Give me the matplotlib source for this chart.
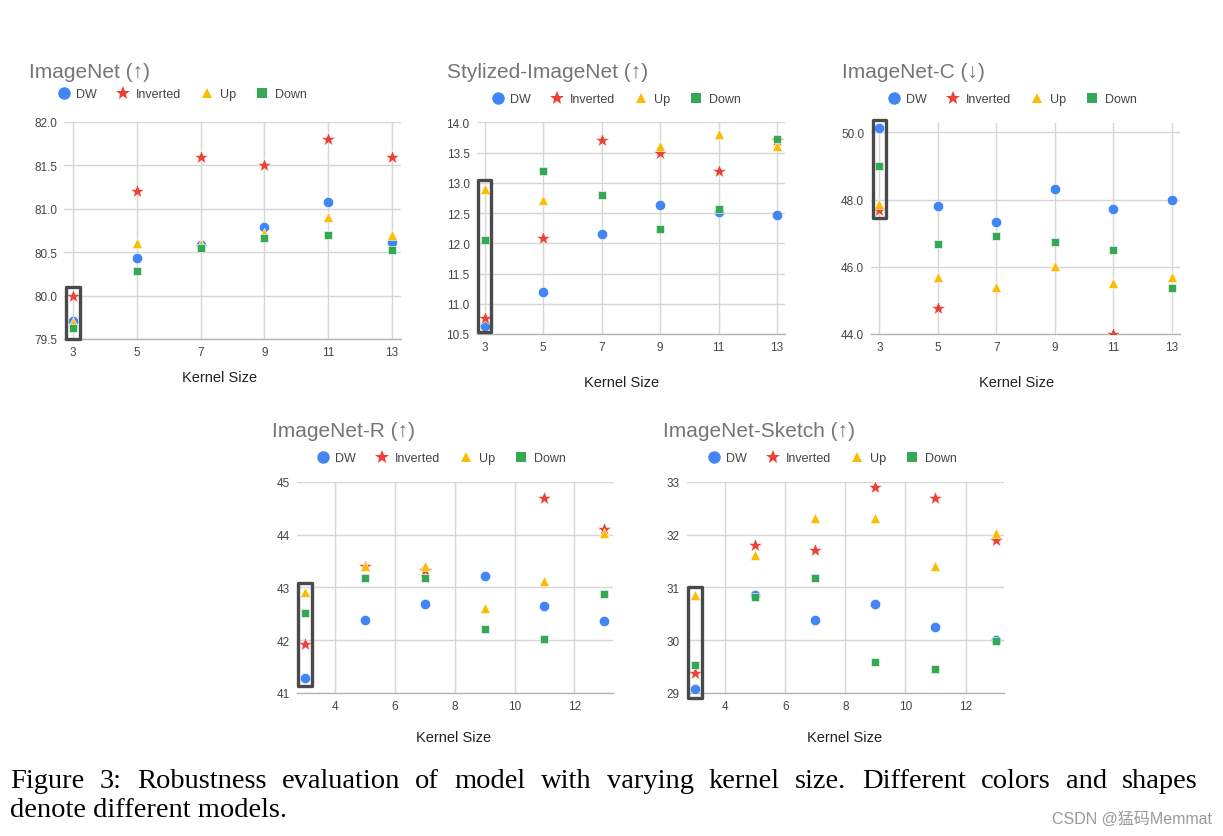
import numpy as np
import matplotlib.pyplot as plt
from matplotlib.lines import Line2D
from matplotlib.patches import Rectangle

# -----------------------------
# data
# -----------------------------
kernel = [3, 5, 7, 9, 11, 13]
models = ["DW", "Inverted", "Up", "Down"]
nan = np.nan

imagenet_dw = [79.71, 80.43, 80.58, 80.79, 81.08, 80.62]
imagenet_inv = [80.0, 81.2, 81.6, 81.5, 81.8, 81.6]
imagenet_up = [79.70, 80.61, 80.60, 80.72, 80.91, 80.70]
imagenet_down = [79.63, 80.28, 80.55, 80.66, 80.70, 80.52]

stylized_dw = [10.64, 11.20, 12.15, 12.63, 12.52, 12.47]
stylized_inv = [10.76, 12.09, 13.70, 13.50, 13.20, 13.71]
stylized_up = [12.89, 12.71, nan, 13.61, 13.81, 13.61]
stylized_down = [12.05, 13.19, 12.80, 12.23, 12.57, 13.73]

inc_dw = [50.13, 47.80, 47.32, 48.33, 47.72, 47.98]
inc_inv = [47.70, 44.78, nan, 43.85, 44.0, 43.85]
inc_up = [47.86, 45.71, 45.41, 46.02, 45.53, 45.71]
inc_down = [48.99, 46.67, 46.93, 46.75, 46.50, 45.37]

inr_dw = [41.28, 42.38, 42.68, 43.22, 42.65, 42.36]
inr_inv = [41.93, 43.41, 43.32, nan, 44.70, 44.11]
inr_up = [42.91, 43.41, 43.41, 42.61, 43.12, 44.03]
inr_down = [42.51, 43.17, 43.18, 42.22, 42.03, 42.87]

sketch_dw = [29.08, 30.86, 30.39, 30.68, 30.24, 30.00]
sketch_inv = [29.37, 31.80, 31.70, 32.90, 32.70, 31.90]
sketch_up = [30.86, 31.62, 32.32, 32.32, 31.41, 32.02]
sketch_down = [29.53, 30.81, 31.17, 29.59, 29.46, 29.98]

titles = ["ImageNet (↑)", "Stylized-ImageNet (↑)", "ImageNet-C (↓)",
          "ImageNet-R (↑)", "ImageNet-Sketch (↑)"]
series = [
    [imagenet_dw, imagenet_inv, imagenet_up, imagenet_down],
    [stylized_dw, stylized_inv, stylized_up, stylized_down],
    [inc_dw, inc_inv, inc_up, inc_down],
    [inr_dw, inr_inv, inr_up, inr_down],
    [sketch_dw, sketch_inv, sketch_up, sketch_down],
]
yticks = [
    [79.5, 80.0, 80.5, 81.0, 81.5, 82.0],
    [10.5, 11.0, 11.5, 12.0, 12.5, 13.0, 13.5, 14.0],
    [44.0, 46.0, 48.0, 50.0],
    [41, 42, 43, 44, 45],
    [29, 30, 31, 32, 33],
]
xticks = [kernel, kernel, kernel, [4, 6, 8, 10, 12], [4, 6, 8, 10, 12]]
ylims = [(79.5, 82.0), (10.5, 14.0), (44.0, 50.28), (41, 45), (29, 33)]
yfmt = ["{:.1f}", "{:.1f}", "{:.1f}", "{:.0f}", "{:.0f}"]
# value range of the highlighted k=3 column
box_ranges = [(79.5, 80.10), (10.53, 13.05), (47.46, 50.36), (41.13, 43.08), (28.9, 31.0)]

caption_lines = [
    "Figure 3:  Robustness evaluation of model with varying kernel size.  Different colors and shapes",
    "denote different models.",
]

# -----------------------------
# style / layout (pixels of a 1223x837 canvas)
# -----------------------------
colors = ["#4285F4", "#EA4335", "#FBBC04", "#34A853"]
markers = ["o", "*", "^", "s"]
msizes = [7.4, 10.5, 7.0, 6.4]
leg_sizes = [9.0, 10.0, 7.4, 6.6]

W, H = 1223, 837
# left, top, right, bottom
ax_px = [(64, 123, 401, 340), (476.5, 123.3, 785.2, 335), (871.1, 124, 1180, 335),
         (296.7, 482.7, 612.7, 694), (686.7, 482.7, 1004, 694)]
title_px = [(29, 73), (447, 73), (842, 73), (271.7, 432), (662.7, 432)]
legend_px = [(182, 95), (616, 100), (1012, 100), (441, 459), (832, 459)]
xlabel_px = [(220, 378), (622, 383), (1017, 383), (454, 738), (845, 738)]

sans = ["Liberation Sans", "DejaVu Sans"]
plt.rcParams["font.family"] = sans

fig = plt.figure(figsize=(W / 100, H / 100), dpi=100)
fig.patch.set_facecolor("white")


def fx(x):
    return x / W


def fy(y):
    return 1 - y / H


handles = [Line2D([], [], marker=m, ls="none", color=c, markersize=s, markeredgewidth=0)
           for m, c, s in zip(markers, colors, leg_sizes)]

for i in range(5):
    l, t, r, b = ax_px[i]
    ax = fig.add_axes([fx(l), fy(b), fx(r - l), (b - t) / H])
    for vals, c, m, s in zip(series[i], colors, markers, msizes):
        ax.plot(kernel, vals, ls="none", marker=m, color=c, markersize=s,
                markeredgewidth=0.4, markeredgecolor="white", zorder=3)

    ax.set_xlim(2.72, 13.28)
    ax.set_ylim(*ylims[i])
    ax.set_xticks(xticks[i])
    ax.set_yticks(yticks[i])
    ax.set_yticklabels([yfmt[i].format(v) for v in yticks[i]])
    ax.grid(True, color="#d6d6d6", lw=1.0, zorder=0)
    ax.set_axisbelow(True)
    for sp in ["top", "left", "right"]:
        ax.spines[sp].set_visible(False)
    ax.spines["bottom"].set_color("#b5b5b5")
    ax.spines["bottom"].set_linewidth(1.0)
    ax.tick_params(length=0, labelsize=8.5, colors="#444444", pad=5)

    y0, y1 = box_ranges[i]
    ax.add_patch(Rectangle((3 - 0.23, y0), 0.46, y1 - y0, fill=False,
                           edgecolor="#4a4a4a", lw=2.4, joinstyle="round",
                           clip_on=False, zorder=5))

    tx, ty = title_px[i]
    fig.text(fx(tx), fy(ty), titles[i], fontsize=15, color="#757575",
             ha="left", va="center")
    lx, ly = legend_px[i]
    fig.legend(handles, models, loc="center", bbox_to_anchor=(fx(lx), fy(ly)),
               ncol=4, frameon=False, fontsize=9, handletextpad=0.5,
               columnspacing=1.6, handlelength=1.0, labelcolor="#444444")
    kx, ky = xlabel_px[i]
    fig.text(fx(kx), fy(ky), "Kernel Size", fontsize=10.5, color="#222222",
             ha="center", va="center")

# caption: first line justified between x=10 and x=1198
serif = ["Liberation Serif", "DejaVu Serif"]
cap_size = 20.5
renderer = fig.canvas.get_renderer()
words = caption_lines[0].split()
items = [fig.text(0, fy(788), w_, fontsize=cap_size, family=serif, ha="left", va="baseline")
         for w_ in words]
widths = [t_.get_window_extent(renderer).width for t_ in items]
gap = (1188 - sum(widths)) / (len(words) - 1)
x = 10
for t_, w_ in zip(items, widths):
    t_.set_x(fx(x))
    x += w_ + gap
fig.text(fx(10), fy(817), caption_lines[1], fontsize=cap_size, family=serif,
         ha="left", va="baseline")

fig.text(fx(1212), fy(819), "CSDN @猛码Memmat", fontsize=11.5, color="#9a9a9a",
         family=["Liberation Sans", "Noto Sans CJK SC"], ha="right", va="center")

fig.savefig("out.png", dpi=100, facecolor="white")
